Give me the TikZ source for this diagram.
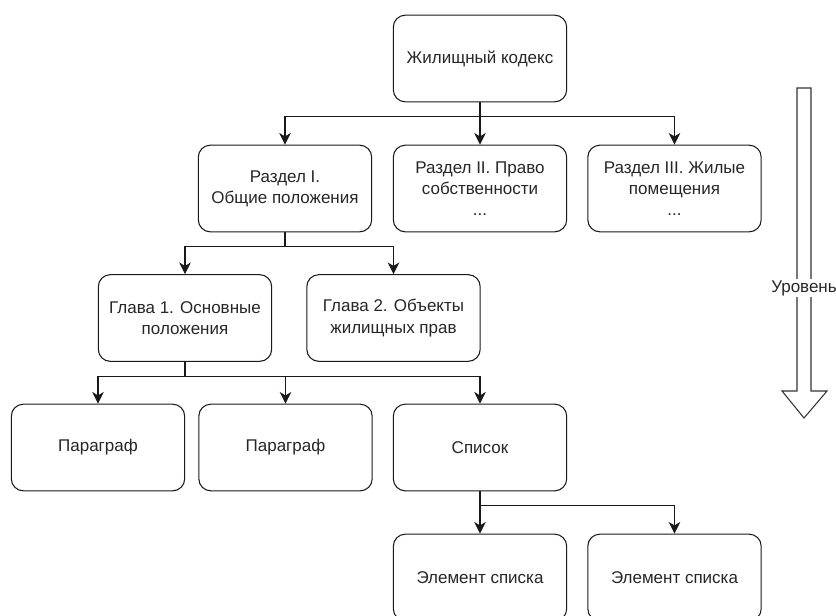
\documentclass[tikz,border=0pt]{standalone}
\usepackage{fontspec}
\setmainfont{Liberation Sans}
\usetikzlibrary{arrows.meta, positioning}

\begin{document}
\begin{tikzpicture}[x=0.03cm, y=-0.03cm,
    box/.style={draw=black!90, line width=0.9pt, rounded corners=0.36cm,
        minimum width=5.2cm, minimum height=2.6cm, inner sep=0pt,
        align=center, text=black!85, font=\fontsize{14.5}{18}\selectfont},
    link/.style={draw=black!90, line width=0.9pt,
        -{Stealth[length=10pt, width=10pt, inset=3pt]}}]
    \clip (0, 0) rectangle (836, 616);

    % Levels of the code
    \node[box] (kodeks) at (480, 58.5) {Жилищный кодекс};

    \node[box] (razdelA) at (285, 188.5) {Раздел I.\\Общие положения};
    \node[box] (razdelB) at (480, 188.5) {Раздел II. Право\\собственности\\...};
    \node[box] (razdelC) at (674.5, 188.5) {Раздел III. Жилые\\помещения\\...};

    \node[box] (glavaA) at (185, 318) {Глава 1. Основные\\положения};
    \node[box] (glavaB) at (393.5, 318) {Глава 2. Объекты\\жилищных прав};

    \node[box] (paragrafA) at (98, 447.5) {Параграф};
    \node[box] (paragrafB) at (285.5, 447.5) {Параграф};
    \node[box] (spisok) at (480, 447.5) {Список};

    \node[box] (elementA) at (480, 577.5) {Элемент списка};
    \node[box] (elementB) at (674.5, 577.5) {Элемент списка};

    % Connections
    \foreach \a/\b in {kodeks/razdelA, kodeks/razdelB, kodeks/razdelC,
                       razdelA/glavaA, razdelA/glavaB,
                       glavaA/paragrafA, glavaA/paragrafB, glavaA/spisok,
                       spisok/elementA, spisok/elementB} {
        \draw[link] (\a.south) -- ++(0, 14.5) -| (\b.north);
    }

    % Level arrow
    \draw[black!80, line width=0.9pt, line join=miter]
        (797, 88) -- (811, 88) -- (811, 391) -- (827, 391) -- (804, 418)
        -- (782, 391) -- (797, 391) -- cycle;
    \node[fill=white, inner sep=1pt, text=black!85,
        font=\fontsize{14.5}{18}\selectfont] (uroven) at (804, 288) {Уровень};
\end{tikzpicture}
\end{document}
